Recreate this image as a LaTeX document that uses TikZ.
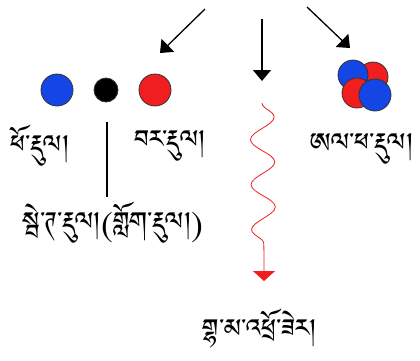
\documentclass[tikz,border=0pt]{standalone}
\usepackage{fontspec}
\IfFontExistsTF{Tibetan Machine Uni}
  {\newfontfamily\tibfont[Script=Tibetan]{Tibetan Machine Uni}}
  {\IfFontExistsTF{Jomolhari}
    {\newfontfamily\tibfont[Script=Tibetan]{Jomolhari}}
    {\newfontfamily\tibfont{DejaVu Sans}}}
\usetikzlibrary{arrows.meta,positioning,decorations.pathmorphing}
\definecolor{pblue}{RGB}{20,70,230}
\definecolor{pred}{RGB}{240,30,30}

\begin{document}
\begin{tikzpicture}[x=1pt,y=1pt,node distance=49pt,
  ray/.style={line width=1.3pt,-{Triangle[width=18pt,length=11pt]}},
  particle/.style={circle,draw=black!80,line width=0.8pt,inner sep=0pt,minimum size=#1},
  label text/.style={font=\tibfont\fontsize{32}{36}\selectfont,inner sep=0pt}]

 \useasboundingbox (0,0) rectangle (420,-360);

 % particles
 \node[particle=32pt,fill=pblue] (proton) at (57,-90) {};
 \node[particle=24pt,fill=black] (electron) [right of=proton] {};
 \node[particle=32pt,fill=pred] (neutron) [right of=electron] {};

 % alpha nucleus
 \node[particle=30pt,fill=pred] (alpha2) at (373,-77) {};
 \node[particle=30pt,fill=pblue] (alpha1) at (353,-75) {};
 \node[particle=30pt,fill=pred] (alpha3) at (357,-93) {};
 \node[particle=32pt,fill=pblue] (alpha4) at (375,-95) {};

 % labels
 \node[label text] (protonlbl) at (40,-146) {ཕོ་རྡུལ།};
 \node[label text] (neutronlbl) at (170,-146) {བར་རྡུལ།};
 \node[label text] (betalbl) at (113,-223) {སྦེ་ཊ་རྡུལ།(གློག་རྡུལ།)};
 \node[label text] (alphalbl) at (362,-149) {ཨལ་ཕ་རྡུལ།};
 \node[label text] (gammalbl) at (260,-329) {གྷ་མ་འཕྲོ་ཟེར།};

 \coordinate (src1) at (205,-9);   \coordinate (tip1) at (160,-53);
 \coordinate (src2) at (262,-19);  \coordinate (tip2) at (262,-81);
 \coordinate (src3) at (307,-7);   \coordinate (tip3) at (350,-48);
 \coordinate (bartop) at (107,-122); \coordinate (barend) at (107,-197);
 \coordinate (wavestart) at (262,-103);
 \coordinate (waveend) at (264,-258);
 \coordinate (wavetip) at (264,-281);

 \path[ray]
    (src1) edge (tip1)
    (src2) edge (tip2)
    (src3) edge (tip3);

 \draw[line width=1.5pt] (bartop) -- (barend);

 \draw[pred,line width=0.8pt,-{Triangle[width=22pt,length=10pt]}] (wavestart)
    decorate[decoration={snake,segment length=45pt,amplitude=12pt}] {-- (waveend)}
    -- (wavetip);

\end{tikzpicture}
\end{document}
